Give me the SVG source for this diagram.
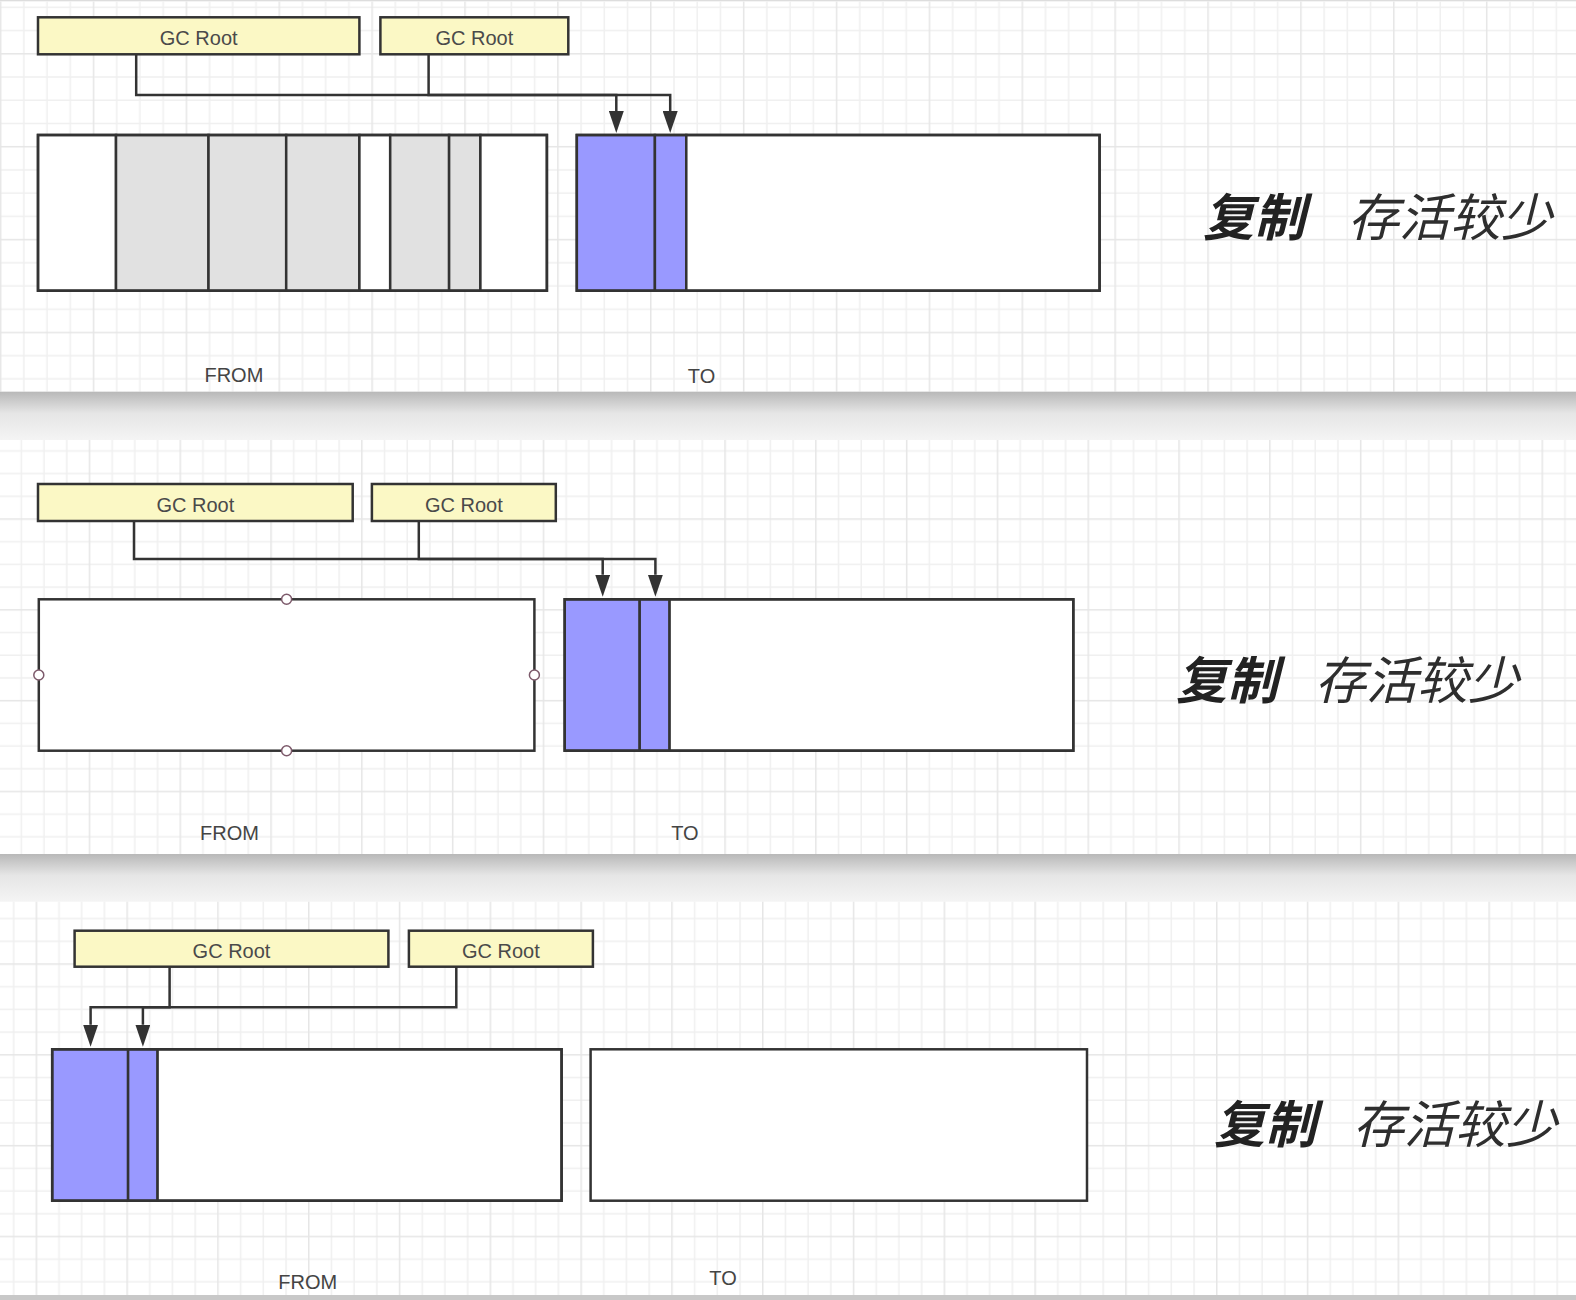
<svg xmlns="http://www.w3.org/2000/svg" width="1576" height="1300" viewBox="0 0 1576 1300">
<defs>
<style>
.gc{fill:#fbf8c5;stroke:#333;stroke-width:2.5}
.gct{font-family:"Liberation Sans",Arial,sans-serif;font-size:20px;fill:#4a4a4a;text-anchor:middle}
.mem{fill:none;stroke:#333;stroke-width:2.5}
.cell{stroke:#333;stroke-width:2.5}
.used{fill:#e1e1e1}
.live{fill:#9999ff}
.free{fill:#fff}
.lbl{font-family:"Liberation Sans",Arial,sans-serif;font-size:20px;fill:#444;text-anchor:middle}
.cn{fill:none;stroke:#333;stroke-width:2.5;marker-end:url(#arr)}
.cjk{font-family:"Noto Sans CJK SC","Noto Sans",sans-serif;font-size:51px;font-style:italic;fill:#2e2e2e}
.b{font-weight:700;fill:#222}
.pt{fill:#fff;stroke:#7d5a6b;stroke-width:1.5}
.gmin{fill:none;stroke:#f0f0f0;stroke-width:1.5}
.gmaj{fill:none;stroke:#e6e6e6;stroke-width:1.5}
</style>
<pattern id="g1" patternUnits="userSpaceOnUse" x="-0.14" y="53.06" width="92.88" height="92.88">
<path class="gmin" d="M23.97 0V92.88M47.19 0V92.88M70.41 0V92.88M0 23.97H92.88M0 47.19H92.88M0 70.41H92.88"/>
<path class="gmaj" d="M0.75 0V92.88M0 0.75H92.88"/>
</pattern>
<pattern id="g2" patternUnits="userSpaceOnUse" x="88.7" y="64.3" width="90.8" height="90.8">
<path class="gmin" d="M23.45 0V90.8M46.15 0V90.8M68.85 0V90.8M0 23.45H90.8M0 46.15H90.8M0 68.85H90.8"/>
<path class="gmaj" d="M0.75 0V90.8M0 0.75H90.8"/>
</pattern>
<pattern id="g3" patternUnits="userSpaceOnUse" x="35.6" y="55.3" width="90.8" height="90.8">
<path class="gmin" d="M23.45 0V90.8M46.15 0V90.8M68.85 0V90.8M0 23.45H90.8M0 46.15H90.8M0 68.85H90.8"/>
<path class="gmaj" d="M0.75 0V90.8M0 0.75H90.8"/>
</pattern>
<linearGradient id="sh" x1="0" y1="0" x2="0" y2="1">
<stop offset="0" stop-color="#b8b8b8"/>
<stop offset="0.45" stop-color="#e6e6e6"/>
<stop offset="1" stop-color="#f4f4f4"/>
</linearGradient>
<marker id="arr" viewBox="0 0 22 15" refX="0" refY="7.5" markerWidth="22" markerHeight="15" markerUnits="userSpaceOnUse" orient="auto">
<path d="M0,0 L22,7.5 L0,15 Z" fill="#333"/>
</marker>
</defs>

<g id="background">
<rect x="0" y="0" width="1576" height="1300" fill="#f3f3f3"/>
<rect x="0" y="0" width="1576" height="1.5" fill="#dddddd"/>
<rect x="0" y="1.5" width="1576" height="390.2" fill="#fff"/>
<rect x="0" y="1.5" width="1576" height="390.2" fill="url(#g1)"/>
<rect x="0" y="391.7" width="1576" height="48.3" fill="url(#sh)"/>
<rect x="0" y="440" width="1576" height="414" fill="#fff"/>
<rect x="0" y="440" width="1576" height="414" fill="url(#g2)"/>
<rect x="0" y="854" width="1576" height="47.7" fill="url(#sh)"/>
<rect x="0" y="901.7" width="1576" height="393.3" fill="#fff"/>
<rect x="0" y="901.7" width="1576" height="393.3" fill="url(#g3)"/>
<rect x="0" y="1295" width="1576" height="5" fill="#c8c8c8"/>
</g>

<g id="connectors">
<path class="cn" d="M136.2,54.3 V95 H670.2 V111"/>
<path class="cn" d="M428.6,54.3 V95 H616.3 V111"/>
<path class="cn" d="M134,521 V559 H655.4 V574.7"/>
<path class="cn" d="M418.8,521 V559 H602.7 V574.7"/>
<path class="cn" d="M169.6,966.7 V1007.3 H142.9 V1024.7"/>
<path class="cn" d="M456.3,966.7 V1007.3 H90.6 V1024.7"/>
</g>

<!-- Panel 1 -->
<g id="p1-gcroot-1"><rect class="gc" x="38" y="17.3" width="321.4" height="37"/><text class="gct" x="198.7" y="45">GC Root</text></g>
<g id="p1-gcroot-2"><rect class="gc" x="380.4" y="17.3" width="187.9" height="37"/><text class="gct" x="474.4" y="45">GC Root</text></g>
<g id="p1-from">
<rect class="cell free" x="38" y="135" width="78" height="155.7"/>
<rect class="cell used" x="116" y="135" width="92.5" height="155.7"/>
<rect class="cell used" x="208.5" y="135" width="77.7" height="155.7"/>
<rect class="cell used" x="286.2" y="135" width="73.2" height="155.7"/>
<rect class="cell free" x="359.4" y="135" width="30.8" height="155.7"/>
<rect class="cell used" x="390.2" y="135" width="58.9" height="155.7"/>
<rect class="cell used" x="449.1" y="135" width="31.3" height="155.7"/>
<rect class="cell free" x="480.4" y="135" width="66.5" height="155.7"/>
<rect class="mem" x="38" y="135" width="508.9" height="155.7"/>
</g>
<g id="p1-to">
<rect class="cell live" x="576.8" y="135" width="78.1" height="155.7"/>
<rect class="cell live" x="654.9" y="135" width="31.4" height="155.7"/>
<rect class="cell free" x="686.3" y="135" width="413.3" height="155.7"/>
<rect class="mem" x="576.8" y="135" width="522.8" height="155.7"/>
</g>
<text class="lbl" x="233.9" y="382">FROM</text>
<text class="lbl" x="701.5" y="382.5">TO</text>
<text class="cjk b" x="1203" y="235.5">复制</text>
<text class="cjk" x="1348" y="235.5">存活较少</text>

<!-- Panel 2 -->
<g id="p2-gcroot-1"><rect class="gc" x="38" y="484" width="314.7" height="37"/><text class="gct" x="195.4" y="511.5">GC Root</text></g>
<g id="p2-gcroot-2"><rect class="gc" x="371.9" y="484" width="183.9" height="37"/><text class="gct" x="463.9" y="511.5">GC Root</text></g>
<g id="p2-from">
<rect class="mem" x="38.8" y="599.3" width="495.6" height="151.4" style="fill:#fff"/>
<circle class="pt" cx="286.6" cy="599.3" r="5"/>
<circle class="pt" cx="286.6" cy="750.7" r="5"/>
<circle class="pt" cx="38.8" cy="675" r="5"/>
<circle class="pt" cx="534.4" cy="675" r="5"/>
</g>
<g id="p2-to">
<rect class="cell live" x="564.7" y="599.3" width="75" height="151.4"/>
<rect class="cell live" x="639.7" y="599.3" width="29.9" height="151.4"/>
<rect class="cell free" x="669.6" y="599.3" width="403.7" height="151.4"/>
<rect class="mem" x="564.7" y="599.3" width="508.6" height="151.4"/>
</g>
<text class="lbl" x="229.5" y="840">FROM</text>
<text class="lbl" x="684.9" y="840">TO</text>
<text class="cjk b" x="1176" y="698.5">复制</text>
<text class="cjk" x="1315" y="698.5">存活较少</text>

<!-- Panel 3 -->
<g id="p3-gcroot-1"><rect class="gc" x="74.6" y="930.7" width="313.8" height="36"/><text class="gct" x="231.5" y="957.5">GC Root</text></g>
<g id="p3-gcroot-2"><rect class="gc" x="408.9" y="930.7" width="184" height="36"/><text class="gct" x="500.9" y="957.5">GC Root</text></g>
<g id="p3-from">
<rect class="cell live" x="52.2" y="1049.3" width="75.9" height="151.4"/>
<rect class="cell live" x="128.1" y="1049.3" width="29.5" height="151.4"/>
<rect class="cell free" x="157.6" y="1049.3" width="404" height="151.4"/>
<rect class="mem" x="52.2" y="1049.3" width="509.4" height="151.4"/>
</g>
<g id="p3-to">
<rect class="mem" x="590.6" y="1049.3" width="496.4" height="151.4" style="fill:#fff"/>
</g>
<text class="lbl" x="307.8" y="1289">FROM</text>
<text class="lbl" x="723" y="1285">TO</text>
<text class="cjk b" x="1214" y="1142.5">复制</text>
<text class="cjk" x="1353" y="1142.5">存活较少</text>
</svg>
